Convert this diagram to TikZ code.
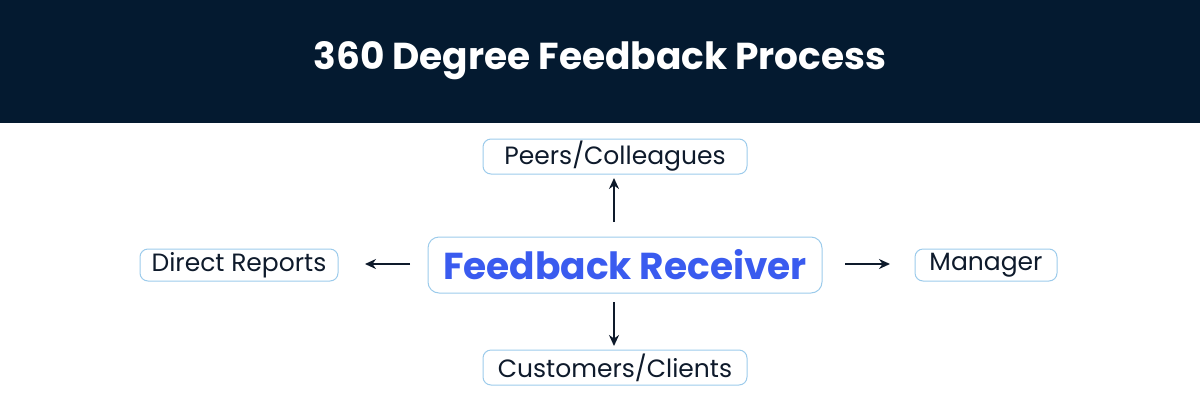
\documentclass[tikz,border=0pt]{standalone}
\usepackage{fontspec}
\setmainfont{Poppins}
\usetikzlibrary{arrows.meta}
\definecolor{navy}{HTML}{041A30}
\definecolor{bord}{HTML}{9CCBEB}
\definecolor{blu}{HTML}{3A5BEF}
\definecolor{ink}{HTML}{0E1A2B}
\begin{document}
\begin{tikzpicture}[x=1pt,y=-1pt,
  box/.style={draw=bord,line width=1pt,rounded corners=8pt,inner sep=0pt,text=ink,font=\fontsize{25}{28}\selectfont},
  arr/.style={draw=ink,line width=2pt,-{Stealth[length=11pt,width=10pt]}}]
\useasboundingbox (0,0) rectangle (1200,400);
\fill[navy] (0,0) rectangle (1200,123);
\node[text=white,font=\fontsize{37.5}{40}\selectfont\bfseries] (title) at (600,61) {360 Degree Feedback Process};
\node[box,minimum width=394,minimum height=56,rounded corners=11pt,text=blu,font=\fontsize{37.5}{40}\selectfont\bfseries] (fr) at (625,265) {Feedback Receiver};
\node[box,minimum width=264,minimum height=35] (peers) at (615,156.5) {Peers/Colleagues};
\node[box,minimum width=264,minimum height=35] (cust) at (615,367.5) {Customers/Clients};
\node[box,minimum width=198,minimum height=32] (dr) at (239,265) {Direct Reports};
\node[box,minimum width=142,minimum height=32] (mgr) at (986,265) {Manager};
\coordinate (u0) at (614,222); \coordinate (u1) at (614,178);
\coordinate (d0) at (614,302); \coordinate (d1) at (614,346);
\coordinate (l0) at (410,264); \coordinate (l1) at (365,264);
\coordinate (r0) at (845,264); \coordinate (r1) at (890,264);
\draw[arr] (u0) -- (u1);
\draw[arr] (d0) -- (d1);
\draw[arr] (l0) -- (l1);
\draw[arr] (r0) -- (r1);
\end{tikzpicture}
\end{document}
